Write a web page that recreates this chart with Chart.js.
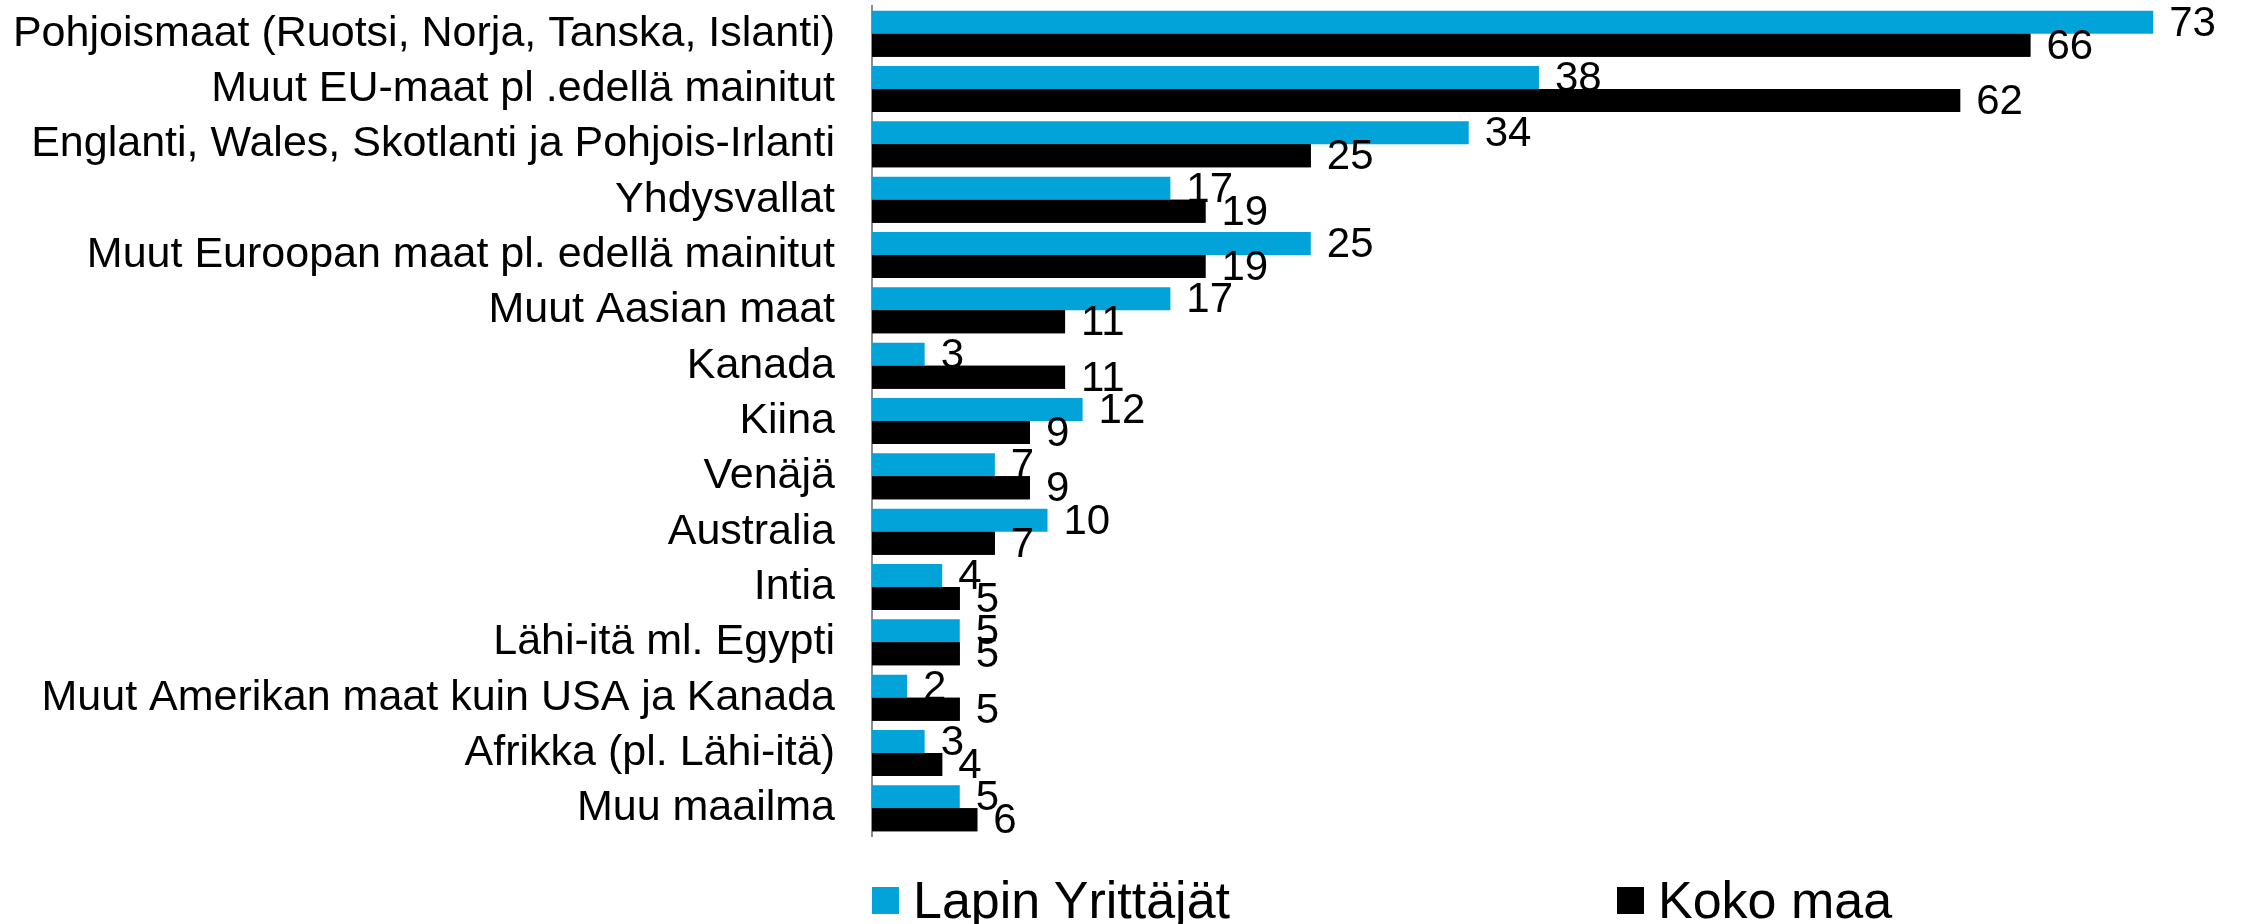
<!DOCTYPE html>
<html>
<head>
<meta charset="utf-8">
<script src="https://cdn.jsdelivr.net/npm/chart.js@4/dist/chart.umd.min.js"></script>
<style>
  html, body { margin: 0; padding: 0; background: #fff; }
  #wrap { position: relative; width: 2241px; height: 924px; }
  #legend { position: absolute; left: 0; top: 872px; width: 2241px; height: 52px;
            font-family: "Liberation Sans", Arial, sans-serif; font-size: 52px; color: #000; }
  .item { position: absolute; top: 0; display: flex; align-items: center; height: 56px; }
  .box { width: 27px; height: 27px; margin-right: 14px; }
</style>
</head>
<body>
<div id="wrap">
  <canvas id="chart" width="2241" height="924"></canvas>
  <div id="legend"></div>
</div>
<script>
// kategoriat ja arvot (%)
const maat = [
  "Pohjoismaat (Ruotsi, Norja, Tanska, Islanti)",
  "Muut EU-maat pl .edellä mainitut",
  "Englanti, Wales, Skotlanti ja Pohjois-Irlanti",
  "Yhdysvallat",
  "Muut Euroopan maat pl. edellä mainitut",
  "Muut Aasian maat",
  "Kanada",
  "Kiina",
  "Venäjä",
  "Australia",
  "Intia",
  "Lähi-itä ml. Egypti",
  "Muut Amerikan maat kuin USA ja Kanada",
  "Afrikka (pl. Lähi-itä)",
  "Muu maailma"
];
const lapinYrittajat = [73, 38, 34, 17, 25, 17, 3, 12, 7, 10, 4, 5, 2, 3, 5];
const kokoMaa = [66, 62, 25, 19, 19, 11, 11, 9, 9, 7, 5, 5, 5, 4, 6];
const sarjat = ["Lapin Yrittäjät", "Koko maa"];
const varit = ["#02A3D9", "#000000"];

const fontti = '"Liberation Sans", Arial, sans-serif';

function piirraArvot(chart, di) {
  const ctx = chart.ctx;
  const ds = chart.data.datasets[di];
  ctx.save();
  ctx.font = '42px ' + fontti;
  ctx.fillStyle = '#000';
  ctx.textAlign = 'left';
  ctx.textBaseline = 'middle';
  chart.getDatasetMeta(di).data.forEach((bar, i) => {
    ctx.fillText(String(ds.data[i]), bar.x + 16, bar.y + 2);
  });
  ctx.restore();
}

// arvot palkkien perään: sinisen sarjan arvot jäävät mustien palkkien alle
const arvoPlugin = {
  id: 'arvot',
  afterDatasetsDraw(chart) {
    piirraArvot(chart, 0);
    const ctx = chart.ctx;
    const area = chart.chartArea;
    ctx.save();
    ctx.beginPath();
    ctx.rect(area.left, area.top, area.right - area.left, area.bottom - area.top);
    ctx.clip();
    chart.getDatasetMeta(1).data.forEach(bar => bar.draw(ctx));
    ctx.restore();
    piirraArvot(chart, 1);
  }
};

const ctx = document.getElementById('chart').getContext('2d');
const chart = new Chart(ctx, {
  type: 'bar',
  data: {
    labels: maat,
    datasets: [
      { label: sarjat[0], data: lapinYrittajat, backgroundColor: varit[0] },
      { label: sarjat[1], data: kokoMaa, backgroundColor: varit[1] }
    ]
  },
  options: {
    indexAxis: 'y',
    responsive: false,
    animation: false,
    layout: { padding: { top: 6, bottom: 88, left: 0, right: 0 } },
    datasets: { bar: { categoryPercentage: 0.83, barPercentage: 1.0 } },
    plugins: { legend: { display: false }, tooltip: { enabled: false } },
    scales: {
      x: { display: false, min: 0, max: 78 },
      y: {
        grid: { display: false, drawTicks: false },
        border: { display: true, color: '#8c8c8c', width: 2 },
        ticks: { color: '#000', padding: 37, font: { family: fontti, size: 43 } },
        afterFit(scale) {
          scale.width = 872;
          scale.paddingTop = 0;
          scale.paddingBottom = 0;
        }
      }
    }
  },
  plugins: [arvoPlugin]
});

// selite
const legend = document.getElementById('legend');
const paikat = [872, 1617];
chart.data.datasets.forEach((ds, i) => {
  const el = document.createElement('div');
  el.className = 'item';
  el.style.left = paikat[i] + 'px';
  el.innerHTML = '<span class="box" style="background:' + ds.backgroundColor + '"></span><span>' + ds.label + '</span>';
  legend.appendChild(el);
});
</script>
</body>
</html>
